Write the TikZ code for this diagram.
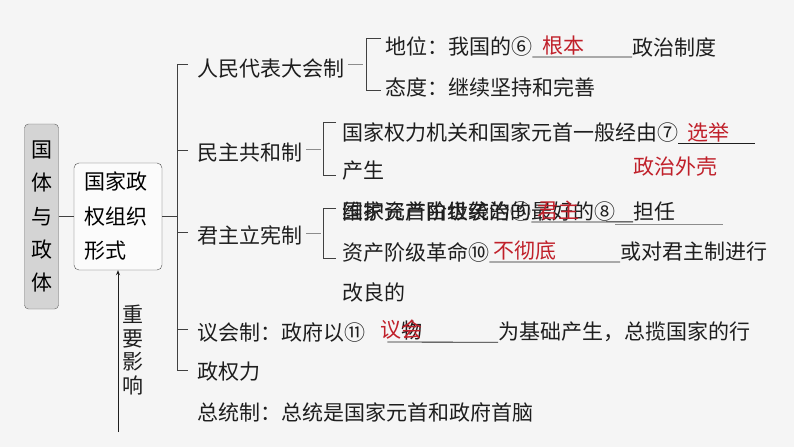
\documentclass[tikz,border=0pt]{standalone}
\usepackage{fontspec}
\setmainfont{Noto Sans CJK SC}
\usetikzlibrary{arrows.meta, calc}

\definecolor{paper}{HTML}{F5F5F5}
\definecolor{ink}{HTML}{1E1E1E}
\definecolor{redans}{HTML}{C0202A}
\definecolor{boxgray}{HTML}{D4D4D4}
\definecolor{linkgray}{HTML}{8C8C8C}

\begin{document}
\begin{tikzpicture}[
    x=1pt, y=-1pt,
    entry/.style={anchor=west, inner sep=0pt, text=ink,
        font=\fontsize{21}{25}\selectfont},
    keyword/.style={entry, text=redans},
    blank/.style={draw=ink, line width=0.8pt},
    branch/.style={draw=ink!85, line width=0.8pt},
    link/.style={draw=linkgray, line width=1pt},
    topicbox/.style={draw=ink!70, fill=boxgray, rounded corners=4pt,
        minimum width=34pt, minimum height=185pt, inner sep=0pt,
        align=center, font=\fontsize{21}{33.3}\selectfont},
    formbox/.style={draw=ink!80, fill=white!60!paper, rounded corners=5pt,
        minimum width=88pt, minimum height=107pt, inner sep=0pt,
        text width=68pt, align=left, font=\fontsize{21}{34.5}\selectfont},
    impact/.style={draw=ink, line width=0.8pt, -{Stealth[length=5pt, width=4pt]}},
]

\fill[paper] (0,0) rectangle (794,447);
\useasboundingbox (0,0) rectangle (794,447);

% =============================================================================
% Left: topic and form boxes
% =============================================================================
\node[topicbox] (gt) at (41.5,216.5) {国\\体\\与\\政\\体};
\node[formbox] (fm) at (118,216.5) {国家政\\权组织\\形式};

\draw[branch] (gt) -- (fm);

% influence arrow up into the form box
\coordinate (impactfoot) at (118,432);
\draw[impact] (impactfoot) -- (fm.south);
\node[inner sep=0pt, align=center, text=ink,
    font=\fontsize{21}{23.5}\selectfont] (zyyx) at (133,350) {重\\要\\影\\响};

% =============================================================================
% Middle: forms of state power
% =============================================================================
\node[entry] (rmdb) at (197,69)  {人民代表大会制};
\node[entry] (mzgh) at (197,153) {民主共和制};
\node[entry] (jzlx) at (197,235) {君主立宪制};
\node[entry] (yhz)  at (197,332) {议会制：政府以⑪};
\node[entry] (zql)  at (197,372) {政权力};
\node[entry] (ztz)  at (197,412) {总统制：总统是国家元首和政府首脑};

% trunk
\draw[branch] (fm.east) -- ++(15,0);
\draw[branch] ([shift={(-9,-5)}]rmdb.west) -- ++(-11,0) |- ([shift={(-9,-2)}]zql.west);
\foreach \n in {mzgh, jzlx, yhz} {
    \draw[branch] ([shift={(-9,-3)}]\n.west) -- ++(-11,0);
}

% 议会制 line
\node[entry] (jcsc) at (498,332) {为基础产生，总揽国家的行};
\node[entry] (yhw)  at (401,331) {物};
\node[keyword] (yh) at (380,330) {议会};
\draw[blank] ([xshift=22]yhz.south east) -- (jcsc.south west);

% =============================================================================
% Right: details of each form
% =============================================================================
% 人民代表大会制
\node[entry] (dw)    at (385,47)  {地位：我国的⑥};
\node[keyword] (gb)  at (542,46)  {根本};
\node[entry] (zzzd)  at (632,47)  {政治制度};
\node[entry] (td)    at (385,87)  {态度：继续坚持和完善};
\draw[blank] (dw.south east) -- (zzzd.south west);

\draw[link] ([shift={(4,-5)}]rmdb.east) -- ++(15,0);
\draw[branch] ([shift={(-4,-9)}]dw.west) -- ++(-15,0) |- ([shift={(-4,3)}]td.west);

% 民主共和制
\node[entry] (gjql)  at (342,133) {国家权力机关和国家元首一般经由⑦};
\node[keyword] (xj)  at (687,132) {选举};
\node[entry] (cs)    at (342,171) {产生};
\node[keyword] (zzwk) at (633,167) {政治外壳};
\draw[blank] (gjql.south east) -- ++(77,0);

\draw[link] ([shift={(4,-4)}]mzgh.east) -- ++(15,0);
\draw[branch] ([shift={(-6,-11)}]gjql.west) -- ++(-13,0) |- ([shift={(-6,4)}]cs.west);

% 君主立宪制
\node[entry] (whzc)  at (342,212) {维护资产阶级统治的最好的⑧};
\node[entry] (gjys)  at (342,212) {国家元首由世袭的⑨};
\node[keyword] (jz)  at (537,211) {君主};
\node[entry] (dr)    at (633,212) {担任};
\node[entry] (zcjj)  at (342,252) {资产阶级革命⑩};
\node[keyword] (bcd) at (493,251) {不彻底};
\node[entry] (hdjz)  at (620,252) {或对君主制进行};
\node[entry] (glde)  at (342,292) {改良的};
\draw[draw=linkgray, line width=0.5pt] ([yshift=-2]whzc.south east) -- ++(108,0);
\draw[blank] (gjys.south east) -- (dr.south west);
\draw[blank] (zcjj.south east) -- (hdjz.south west);

\draw[link] ([shift={(4,-2)}]jzlx.east) -- ++(15,0);
\draw[branch] ([shift={(-6,-4)}]gjys.west) -- ++(-13,0) |- ([shift={(-6,6)}]zcjj.west);

\end{tikzpicture}
\end{document}
